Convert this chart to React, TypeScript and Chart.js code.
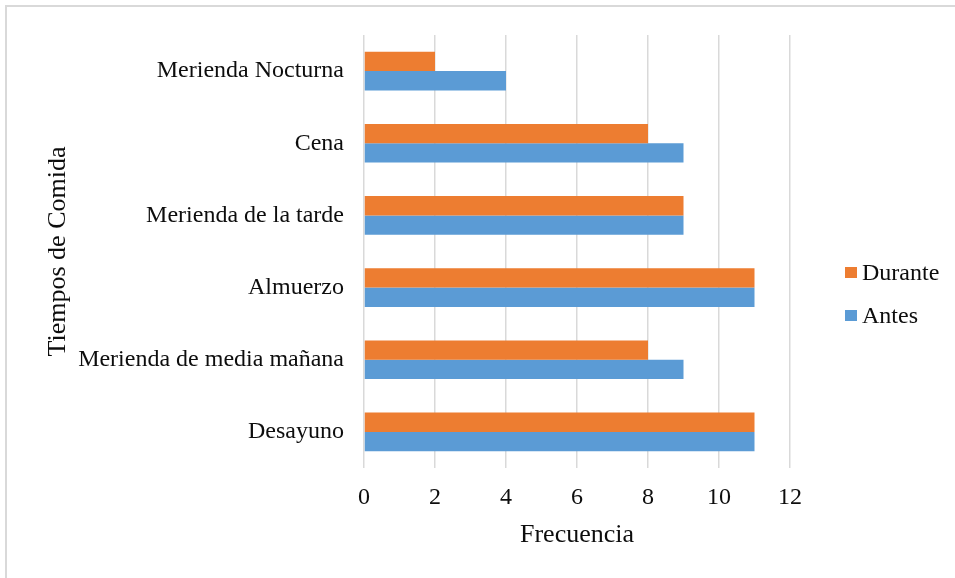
import React, { useEffect, useRef } from "react";
import { Chart, registerables } from "chart.js";

Chart.register(...registerables);

const categories = [
  "Merienda Nocturna",
  "Cena",
  "Merienda de la tarde",
  "Almuerzo",
  "Merienda de media mañana",
  "Desayuno",
];
const seriesNames = ["Durante", "Antes"];
const durante = [2, 8, 9, 11, 8, 11];
const antes = [4, 9, 9, 11, 9, 11];
const xTickMin = 0;
const xTickMax = 12;
const xTickStep = 2;
const xTitle = "Frecuencia";
const yTitle = "Tiempos de Comida";

const ORANGE = "#ED7D31";
const BLUE = "#5B9BD5";
const FONT = "'Liberation Serif', 'Times New Roman', serif";
const TEXT = "#0d0d0d";

export default function App() {
  const ref = useRef<HTMLCanvasElement | null>(null);

  useEffect(() => {
    if (!ref.current) return;
    const chart = new Chart(ref.current, {
      type: "bar",
      data: {
        labels: categories,
        datasets: [
          {
            label: seriesNames[0],
            data: durante,
            backgroundColor: ORANGE,
            borderWidth: 0,
          },
          {
            label: seriesNames[1],
            data: antes,
            backgroundColor: BLUE,
            borderWidth: 0,
          },
        ],
      },
      options: {
        indexAxis: "y",
        responsive: false,
        animation: false,
        maintainAspectRatio: false,
        layout: { padding: { top: 35, right: 165, left: 0, bottom: 0 } },
        datasets: {
          bar: { categoryPercentage: 0.535, barPercentage: 1 },
        },
        plugins: {
          legend: { display: false },
          tooltip: { enabled: false },
          title: { display: false },
        },
        scales: {
          x: {
            min: xTickMin,
            max: xTickMax,
            ticks: {
              stepSize: xTickStep,
              padding: 15,
              color: TEXT,
              font: { family: FONT, size: 24 },
            },
            grid: {
              color: "#d9d9d9",
              lineWidth: 1.5,
              drawTicks: false,
            },
            border: { display: false },
            title: {
              display: true,
              text: xTitle,
              color: TEXT,
              font: { family: FONT, size: 26 },
              padding: { top: 0, bottom: 27 },
            },
            afterFit: (scale: any) => {
              scale.height = 110;
            },
          },
          y: {
            ticks: {
              padding: 20,
              color: TEXT,
              font: { family: FONT, size: 24 },
            },
            grid: { display: false, drawTicks: false },
            border: { display: false },
            title: {
              display: true,
              text: yTitle,
              color: TEXT,
              font: { family: FONT, size: 26 },
              padding: { top: 43, bottom: 0 },
            },
            afterFit: (scale: any) => {
              scale.width = 364;
            },
          },
        },
      },
    });
    return () => chart.destroy();
  }, []);

  const legendItems = [
    { name: seriesNames[0], color: ORANGE, top: 272 },
    { name: seriesNames[1], color: BLUE, top: 315 },
  ];

  return (
    <div
      style={{
        position: "absolute",
        left: 0,
        top: 0,
        width: 955,
        height: 578,
        overflow: "hidden",
        background: "#fff",
      }}
    >
      <div
        style={{
          position: "absolute",
          left: 5,
          top: 5,
          width: 1000,
          height: 1000,
          borderTop: "2px solid #d9d9d9",
          borderLeft: "2px solid #d9d9d9",
        }}
      />
      <canvas
        ref={ref}
        width={955}
        height={578}
        style={{ position: "absolute", left: 0, top: 0, display: "block" }}
      />
      {legendItems.map((it) => (
        <div
          key={it.name}
          style={{
            position: "absolute",
            left: 845,
            top: it.top - 15,
            height: 30,
            display: "flex",
            alignItems: "center",
            fontFamily: FONT,
            fontSize: 24,
            color: TEXT,
            whiteSpace: "nowrap",
          }}
        >
          <span
            style={{
              display: "inline-block",
              width: 12,
              height: 11,
              background: it.color,
              marginRight: 5,
            }}
          />
          <span>{it.name}</span>
        </div>
      ))}
    </div>
  );
}
